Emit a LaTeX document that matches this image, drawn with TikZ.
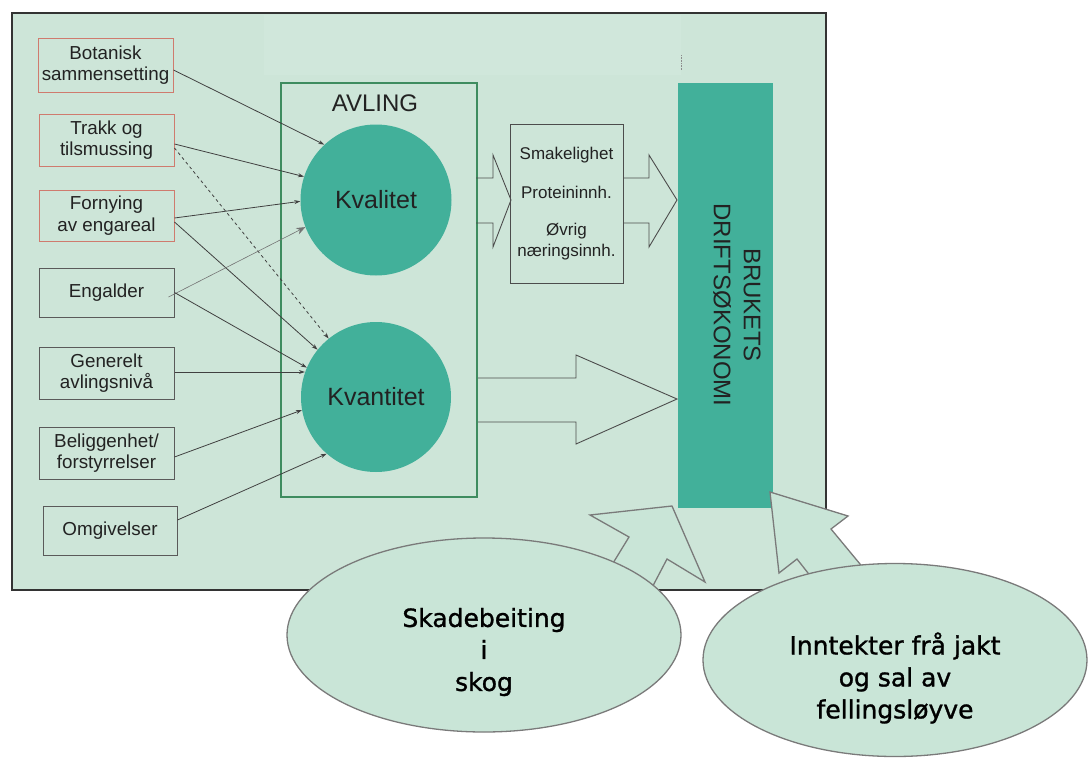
\documentclass[tikz,border=0pt]{standalone}
\usepackage{fontspec}
\setmainfont{Liberation Sans}
\newfontfamily\ellfont[FakeBold=1.2]{DejaVu Sans}
\usetikzlibrary{arrows.meta,shapes.geometric}
\definecolor{bgc}{HTML}{CDE5D8}
\definecolor{bglight}{HTML}{D0E7DB}
\definecolor{tealc}{HTML}{42B09A}
\definecolor{avlc}{HTML}{3E8C5F}
\definecolor{redb}{HTML}{CF7B6E}
\definecolor{grayb}{HTML}{5A5A5A}
\definecolor{txtc}{HTML}{222222}
\definecolor{ellc}{HTML}{C9E5D7}
\definecolor{ellb}{HTML}{7A7A7A}
\tikzset{
  boxbase/.style={rectangle, draw, line width=1pt, minimum width=135pt, minimum height=52pt,
    inner sep=0pt, align=center, text=txtc, font=\fontsize{18.8}{21.7}\selectfont},
  redbox/.style={boxbase, draw=redb},
  graybox/.style={boxbase, draw=grayb},
  circ/.style={circle, fill=tealc, minimum size=151pt, inner sep=0pt, text=txtc,
    font=\fontsize{25}{30}\selectfont},
  conn/.style={draw=black!75, line width=0.8pt, -{Stealth[length=6pt,width=4pt]}},
  blockarrow/.style={draw=black!70, line width=0.9pt},
  botarrow/.style={draw=ellb, fill=ellc, line width=1.3pt, line join=miter},
  ell/.style={ellipse, draw=ellb, fill=ellc, line width=1.3pt, inner sep=0pt},
  elltxt/.style={align=center, text=black, font=\ellfont\fontsize{25}{32}\selectfont}
}
\begin{document}
\begin{tikzpicture}[x=1pt,y=-1pt]
\useasboundingbox (0,0) rectangle (1088,758);
\fill[white] (0,0) rectangle (1088,758);
% frame
\draw[fill=bgc, draw=black!80, line width=1.6pt] (12,13) rectangle (826,590);
\fill[bglight] (264,15) rectangle (681,75);
\draw[black!45, densely dotted, line width=0.6pt] (681,55) -- (681,70);

% left boxes
\node[redbox, minimum height=54pt] (bot) at (105.5,65) {Botanisk\\sammensetting};
\node[redbox] (trakk) at (106.5,140) {Trakk og\\tilsmussing};
\node[redbox, minimum height=51pt] (forn) at (106.5,215.5) {Fornying\\av engareal};
\node[graybox, minimum height=49pt] (eng) at (106.5,292.5) {Engalder};
\node[graybox] (gen) at (106.5,373) {Generelt\\avlingsnivå};
\node[graybox] (bel) at (106.5,453) {Beliggenhet/\\forstyrrelser};
\node[graybox, minimum width=134pt, minimum height=49pt] (omg) at (110,530.5) {Omgivelser};

% AVLING box
\node[draw=avlc, line width=2.8pt, minimum width=196pt, minimum height=414pt, inner sep=0pt] (avl) at (379,290) {};
\node[text=txtc, font=\fontsize{24}{28}\selectfont] (avltxt) at (375,103) {AVLING};
\node[circ] (kval) at (376,200) {Kvalitet};
\node[circ, minimum size=150pt] (kvant) at (376,397) {Kvantitet};

% middle box
\node[draw=black!70, line width=0.9pt, minimum width=113pt, minimum height=159pt, inner sep=0pt,
  align=center, text=txtc, font=\fontsize{17}{21}\selectfont] (mid) at (566.5,203.5)
  {Smakelighet\\[18pt]Proteininnh.\\[16pt]Øvrig\\næringsinnh.};

% Brukets driftsøkonomi
\node[fill=tealc, minimum width=95pt, minimum height=425pt, inner sep=0pt] (bruk) at (725.5,295.5) {};
\node[rotate=-90, align=center, text=txtc, font=\fontsize{24}{30}\selectfont] (bruktxt) at (737,305)
  {BRUKETS\\DRIFTSØKONOMI};

% block arrows
\draw[blockarrow] (476,178) -- (493,178) -- (493,155) -- (511,200) -- (493,247) -- (493,223) -- (476,223);
\draw[blockarrow] (623,178) -- (649,178) -- (649,155) -- (677,200) -- (649,247) -- (649,223) -- (623,223);
\draw[blockarrow] (478,378) -- (576,378) -- (576,355) -- (677,399) -- (576,444) -- (576,422) -- (478,422);

% connectors
\draw[conn] ([yshift=-5pt]bot.east) -- (kval.133);
\draw[conn] ([yshift=-4pt]trakk.east) -- (kval.162);
\draw[conn, dashed] ([yshift=-8pt]trakk.east) -- (kvant.129);
\draw[conn] ([yshift=-2.5pt]forn.east) -- (kval.181);
\draw[conn] ([yshift=-6.5pt]forn.east) -- (kvant.141);
\draw[draw=black!55, line width=0.6pt, -{Stealth[length=9pt,width=7pt]}] ([xshift=-6pt,yshift=-4.5pt]eng.east) -- (kval.201);
\draw[conn] (eng.east) -- (kvant.157);
\draw[conn] ([yshift=1pt]gen.east) -- ([yshift=1pt]gen.east -| kvant.161);
\draw[conn] ([yshift=-4pt]bel.east) -- (kvant.190);
\draw[conn] ([yshift=10.5pt]omg.east) -- (kvant.229);

% bottom arrows
\draw[botarrow] (599,586) -- (629,537) -- (590,515) -- (672,506) -- (705,582) -- (667,559) -- (645,601) -- cycle;
\draw[botarrow] (830,601) -- (797,559) -- (779,573) -- (770,492) -- (848,516) -- (831,529) -- (889,599) -- cycle;

% ellipses
\node[ell, minimum width=394pt, minimum height=194pt] (skade) at (484,635) {};
\node[elltxt] (skadetxt) at (484,652) {Skadebeiting\\i\\skog};
\node[ell, minimum width=384pt, minimum height=193pt] (inn) at (895,660) {};
\node[elltxt] (inntxt) at (895,678) {Inntekter frå jakt\\og sal av\\fellingsløyve};
\end{tikzpicture}
\end{document}
